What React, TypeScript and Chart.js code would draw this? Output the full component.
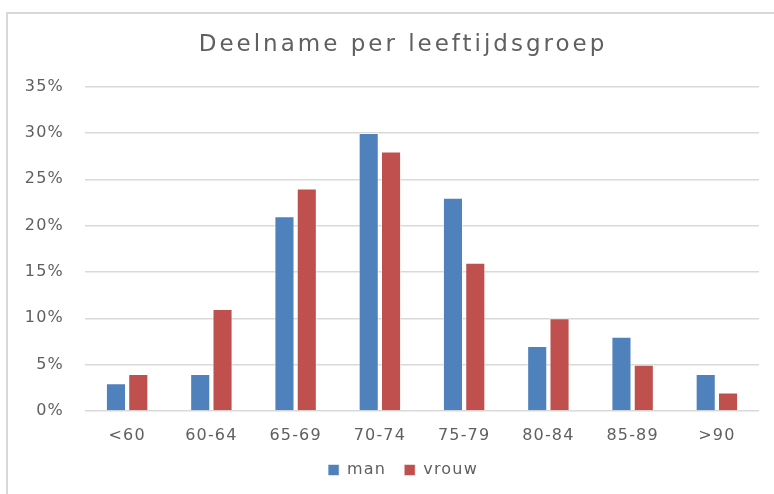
import React, { useEffect, useRef } from "react";
import { Chart, registerables } from "chart.js";

Chart.register(...registerables);

const categories = ["<60", "60-64", "65-69", "70-74", "75-79", "80-84", "85-89", ">90"];
const manValues = [3, 4, 21, 30, 23, 7, 8, 4];
const vrouwValues = [4, 11, 24, 28, 16, 10, 5, 2];
const seriesNames = ["man", "vrouw"];
const chartTitle = "Deelname per leeftijdsgroep";
const yMin = 0;
const yMax = 35;
const yStep = 5;

const TEXT = "#606060";
const FONT = "'DejaVu Sans', 'Noto Sans', sans-serif";
const SPACING = "1.2px";
const TITLE_SPACING = "3px";

const framePlugin = {
  id: "frame",
  beforeUpdate(chart: any) {
    chart.ctx.letterSpacing = SPACING;
    const tb = chart.titleBlock;
    if (tb && !tb.__wrapped) {
      const orig = tb.draw.bind(tb);
      tb.draw = (...args: any[]) => {
        const ctx = chart.ctx;
        const prev = ctx.letterSpacing;
        ctx.letterSpacing = TITLE_SPACING;
        orig(...args);
        ctx.letterSpacing = prev;
      };
      tb.__wrapped = true;
    }
  },
  beforeDraw(chart: any) {
    const ctx = chart.ctx;
    ctx.letterSpacing = SPACING;
    ctx.save();
    ctx.fillStyle = "#ffffff";
    ctx.fillRect(0, 0, chart.width, chart.height);
    ctx.strokeStyle = "#d9d9d9";
    ctx.lineWidth = 2;
    ctx.beginPath();
    ctx.moveTo(7, chart.height);
    ctx.lineTo(7, 13);
    ctx.lineTo(chart.width, 13);
    ctx.stroke();
    ctx.restore();
  },
};

export default function App() {
  const ref = useRef<HTMLCanvasElement | null>(null);
  useEffect(() => {
    if (!ref.current) return;
    const chart = new Chart(ref.current, {
      type: "bar",
      data: {
        labels: categories,
        datasets: [
          {
            label: seriesNames[0],
            data: manValues,
            backgroundColor: "#4F81BD",
            borderColor: "rgba(255,255,255,0.55)",
            borderWidth: 1,
            barPercentage: 0.9,
            categoryPercentage: 0.53,
          },
          {
            label: seriesNames[1],
            data: vrouwValues,
            backgroundColor: "#C0504D",
            borderColor: "rgba(255,255,255,0.55)",
            borderWidth: 1,
            barPercentage: 0.9,
            categoryPercentage: 0.53,
          },
        ],
      },
      options: {
        animation: false,
        responsive: false,
        maintainAspectRatio: false,
        layout: { padding: { left: 47, right: 15, top: 25, bottom: 6 } },
        plugins: {
          title: {
            display: true,
            text: chartTitle,
            color: TEXT,
            font: { family: FONT, size: 23, weight: "normal" },
            padding: { top: 6, bottom: 28 },
          },
          legend: {
            position: "bottom",
            labels: {
              boxWidth: 11,
              boxHeight: 11,
              color: TEXT,
              font: { family: FONT, size: 16 },
              padding: 18,
            },
          },
          tooltip: { enabled: false },
        },
        scales: {
          x: {
            grid: { display: false, drawTicks: false },
            border: { display: false },
            afterFit: (s: any) => {
              s.height = 33;
            },
            ticks: { color: TEXT, font: { family: FONT, size: 16 }, padding: 15 },
          },
          y: {
            min: yMin,
            max: yMax,
            afterFit: (s: any) => {
              s.width = 38;
              s._computeLabelArea = () => undefined;
            },
            grid: { color: "#d9d9d9", lineWidth: 1.5, drawTicks: false },
            border: { display: false },
            ticks: {
              stepSize: yStep,
              color: TEXT,
              font: { family: FONT, size: 16 },
              padding: 21,
              callback: (v: any) => v + "%",
            },
          },
        },
      },
      plugins: [framePlugin],
    });
    return () => chart.destroy();
  }, []);
  return (
    <div style={{ position: "absolute", left: 0, top: 0, width: 774, height: 494 }}>
      <canvas ref={ref} width={774} height={494} />
    </div>
  );
}
